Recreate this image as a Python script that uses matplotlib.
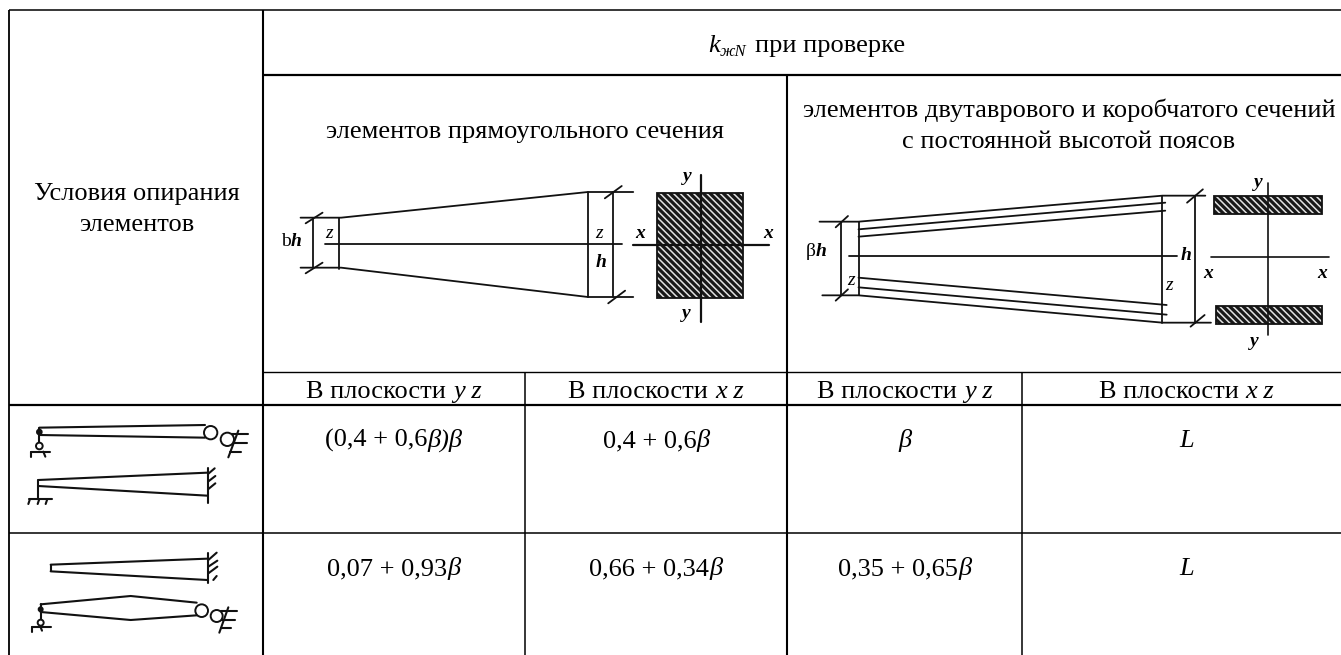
import matplotlib
matplotlib.use("Agg")
import matplotlib.pyplot as plt
from matplotlib.patches import Rectangle, Circle

W, H = 1341, 655
SERIF = "Liberation Serif"
FS = 19
INK = "#111111"
plt.rcParams["hatch.linewidth"] = 1.1

# ---- table text -------------------------------------------------------
left_header = ["Условия опирания", "элементов"]
group_left = ["элементов прямоугольного сечения"]
group_right = ["элементов двутаврового и коробчатого сечений", "с постоянной высотой поясов"]
plane_labels = ["В плоскости ", "В плоскости ", "В плоскости ", "В плоскости "]
plane_axes = ["y z", "x z", "y z", "x z"]
row1_values = ["(0,4 + 0,6", "0,4 + 0,6", "", ""]
row1_symbols = ["β)β", "β", "β", "L"]
row2_values = ["0,07 + 0,93", "0,66 + 0,34", "0,35 + 0,65", ""]
row2_symbols = ["β", "β", "β", "L"]

# ---- table grid -------------------------------------------------------
col_x = [9.5, 263, 525, 787.5, 1022.5]
row_y = [10, 75, 372, 405, 533]
plane_cx = [394, 656, 905, 1186.5]

fig = plt.figure(figsize=(W / 100, H / 100), dpi=100, facecolor="white")
ax = fig.add_axes([0, 0, 1, 1])
ax.set_xlim(0, W)
ax.set_ylim(H, 0)
ax.axis("off")


def line(xs, ys, lw=1.3, color="#000000"):
    ax.plot(xs, ys, color=color, lw=lw, solid_capstyle="butt", solid_joinstyle="round", zorder=5)


def put(x, y, s, size=FS, style="normal", ha="center", va="center", weight="normal"):
    return ax.text(x, y, s, fontsize=size, family=SERIF, style=style, ha=ha, va=va,
                   color="black", weight=weight)


def mixed(cx, y, normal, italic, size=FS):
    """Roman text followed by italic text, centred together on cx."""
    r = fig.canvas.get_renderer()
    a = put(0, y, normal, size=size, ha="left", va="baseline")
    b = put(0, y, italic, size=size, style="italic", ha="left", va="baseline")
    wa = ax.transData.inverted().transform(a.get_window_extent(r))
    wb = ax.transData.inverted().transform(b.get_window_extent(r))
    ww = (wa[1][0] - wa[0][0]) if normal else 0
    wi = wb[1][0] - wb[0][0]
    x0 = cx - (ww + wi) / 2
    a.set_x(x0)
    b.set_x(x0 + ww)


# grid
line([col_x[0], W], [row_y[0]] * 2, lw=1.1)
line([col_x[1], W], [row_y[1]] * 2, lw=1.6)
line([col_x[1], W], [row_y[2]] * 2, lw=1.0)
line([col_x[0], W], [row_y[3]] * 2, lw=1.6)
line([col_x[0], W], [row_y[4]] * 2, lw=1.1)
line([col_x[0], col_x[0]], [row_y[0], H], lw=1.3)
line([col_x[1], col_x[1]], [row_y[0], H], lw=1.5)
line([col_x[3], col_x[3]], [row_y[1], H], lw=1.5)
line([col_x[2], col_x[2]], [row_y[2], H], lw=1.1)
line([col_x[4], col_x[4]], [row_y[2], H], lw=1.1)

# header texts
put(708.5, 52, "k", style="italic", ha="left", va="baseline")
put(720, 56, "жN", size=12, style="italic", ha="left", va="baseline")
put(755, 52, "при проверке", ha="left", va="baseline")
put(137, 200, left_header[0], va="baseline")
put(137, 231, left_header[1], va="baseline")
put(525, 138, group_left[0], va="baseline")
put(1069, 117, group_right[0], va="baseline")
put(1069, 148, group_right[1], va="baseline")

for cx, a, b in zip(plane_cx, plane_labels, plane_axes):
    mixed(cx, 398, a, b)
for cx, a, b in zip(plane_cx, row1_values, row1_symbols):
    mixed(cx, 447, a, b)
for cx, a, b in zip(plane_cx, row2_values, row2_symbols):
    mixed(cx, 575, a, b)


def hatched(x0, y0, x1, y1):
    ax.add_patch(Rectangle((x0, y0), x1 - x0, y1 - y0, facecolor="#181818", edgecolor="none", zorder=2))
    ax.add_patch(Rectangle((x0, y0), x1 - x0, y1 - y0, facecolor="none", edgecolor="#e2e2e2",
                           lw=0, hatch="\\\\\\\\\\", zorder=2.1))
    ax.add_patch(Rectangle((x0, y0), x1 - x0, y1 - y0, facecolor="none", edgecolor="#111111",
                           lw=1.3, zorder=2.2))


def poly(pts, conv, lw=1.3):
    q = [conv(*pt) for pt in pts]
    ax.plot([a for a, _ in q], [b for _, b in q], color=INK, lw=lw,
            solid_capstyle="round", solid_joinstyle="round", zorder=3)


def ilabel(conv, zx, zy, s, size=14):
    x, y = conv(zx, zy)
    put(x, y, s, size=size, style="italic", weight="normal" if s == "z" else "bold")


# ---- schematic 1: rectangular section ---------------------------------
def p1(zx, zy):
    return 260 + zx / 2.958, 170 + zy / 3


seg1 = [
    [(120, 143), (240, 143), (970, 66), (1104, 66)],
    [(120, 293), (240, 293), (970, 381), (1104, 381)],
    [(235, 143), (235, 297)],
    [(158, 143), (158, 293)],
    [(970, 66), (970, 381)],
    [(1045, 66), (1045, 381)],
    [(192, 222), (1070, 222)],
    [(135, 160), (185, 128)],
    [(135, 310), (185, 278)],
    [(1020, 85), (1070, 48)],
    [(1030, 400), (1080, 362)],
]
for s in seg1:
    poly(s, p1)

hatched(*p1(1174, 68), *p1(1429, 385))
for s in ([(1102, 225), (1505, 225)], [(1304, 15), (1304, 455)]):
    poly(s, p1, lw=1.6)

for zx, zy, s in [(203, 190, "z"), (1002, 190, "z"), (1008, 278, "h"), (1123, 190, "x"),
                  (1503, 190, "x"), (1265, 20, "y"), (1262, 432, "y"), (108, 216, "h")]:
    ilabel(p1, zx, zy, s)
x, y = p1(78, 216)
put(x, y, "b", size=14)


# ---- schematic 2: I-section -------------------------------------------
def p2(zx, zy):
    return 790 + zx / 2.846, 170 + zy / 3


seg2 = [
    [(84, 155), (195, 155), (1060, 77), (1182, 77)],
    [(195, 178), (1068, 98)],
    [(195, 200), (1068, 122)],
    [(92, 376), (195, 376), (1060, 458), (1198, 458)],
    [(195, 352), (1072, 434)],
    [(195, 323), (1072, 405)],
    [(195, 155), (195, 376)],
    [(146, 155), (146, 376)],
    [(1058, 77), (1058, 458)],
    [(1154, 77), (1154, 458)],
    [(168, 257), (1100, 257)],
    [(130, 172), (165, 138)],
    [(130, 392), (165, 358)],
    [(1130, 98), (1175, 58)],
    [(1140, 470), (1180, 435)],
]
for s in seg2:
    poly(s, p2)

hatched(*p2(1208, 77), *p2(1514, 131))
hatched(*p2(1212, 408), *p2(1514, 462))
for s in ([(1198, 260), (1534, 260)], [(1361, 40), (1361, 495)]):
    poly(s, p2, lw=1.2)

for zx, zy, s in [(1128, 257, "h"), (1190, 310, "x"), (1513, 312, "x"), (175, 332, "z"),
                  (1080, 345, "z"), (1332, 38, "y"), (1320, 515, "y"), (88, 243, "h")]:
    ilabel(p2, zx, zy, s)
x, y = p2(60, 243)
put(x, y, "β", size=14)


# ---- support icons ----------------------------------------------------
def p3(zx, zy):
    return zx / 3, 400 + zy / 3


def circle(zx, zy, zr, lw=1.4, fill=False):
    x, y = p3(zx, zy)
    ax.add_patch(Circle((x, y), zr / 3, facecolor=INK if fill else "white", edgecolor=INK,
                        lw=lw, zorder=3.5))


icons = [
    [(118, 83), (615, 75)], [(118, 105), (615, 113)], [(118, 83), (118, 130)],
    [(92, 155), (150, 155)], [(92, 155), (92, 172)], [(130, 155), (136, 170)],
    [(685, 172), (715, 92)], [(695, 103), (745, 103)], [(690, 130), (740, 130)], [(690, 155), (722, 155)],
    [(115, 240), (622, 218)], [(115, 258), (622, 287)], [(115, 240), (115, 298)],
    [(88, 297), (155, 297)], [(90, 297), (85, 312)], [(118, 297), (113, 312)], [(142, 297), (137, 312)],
    [(624, 205), (624, 310)], [(624, 222), (644, 205)], [(624, 245), (646, 228)], [(624, 268), (646, 250)],
    [(152, 494), (622, 476)], [(152, 514), (622, 540)], [(152, 494), (152, 514)],
    [(625, 460), (625, 550)], [(625, 480), (650, 458)], [(625, 500), (652, 482)], [(625, 520), (652, 500)], [(640, 540), (650, 528)],
    [(122, 613), (392, 588), (590, 608)], [(122, 636), (392, 660), (590, 646)], [(122, 613), (122, 660)],
    [(97, 682), (152, 682)], [(97, 682), (97, 695)], [(122, 682), (126, 692)],
    [(658, 698), (685, 622)], [(662, 634), (712, 634)], [(662, 660), (706, 660)], [(662, 684), (692, 684)],
]
for s in icons:
    poly(s, p3, lw=1.5)
for c in [(632, 98, 20), (682, 118, 20), (118, 138, 10), (605, 632, 19), (650, 648, 18), (122, 668, 9)]:
    circle(*c)
circle(118, 96, 7, fill=True)
circle(122, 628, 6, fill=True)

fig.savefig("out.png", dpi=100, facecolor="white")
